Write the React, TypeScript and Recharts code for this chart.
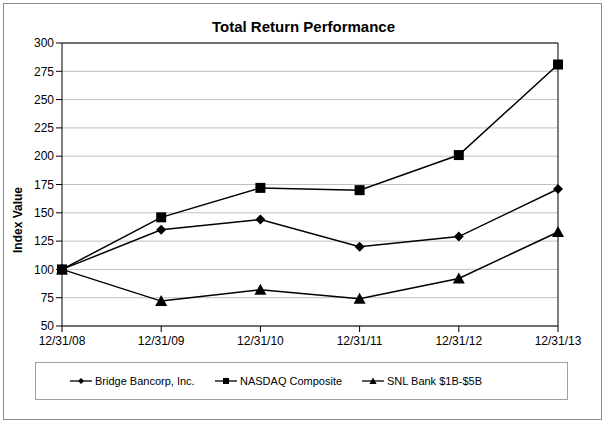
import React from "react"
import { CartesianGrid, Line, LineChart, ReferenceLine, XAxis, YAxis } from "recharts"

const dates = ["12/31/08", "12/31/09", "12/31/10", "12/31/11", "12/31/12", "12/31/13"]
const bridge = [100, 135, 144, 120, 129, 171]
const nasdaq = [100, 146, 172, 170, 201, 281]
const snl = [100, 72, 82, 74, 92, 133]
const yTicks = [50, 75, 100, 125, 150, 175, 200, 225, 250, 275, 300]

const rows = dates.map((d, i) => ({ date: d, bridge: bridge[i], nasdaq: nasdaq[i], snl: snl[i] }))

const font = "'Liberation Sans', Arial, sans-serif"

function Diamond({ cx, cy }: any) {
  const r = 5
  return <path d={`M${cx},${cy - r}L${cx + r},${cy}L${cx},${cy + r}L${cx - r},${cy}Z`} fill="#000" />
}
function Square({ cx, cy }: any) {
  const r = 5
  return <rect x={cx - r} y={cy - r} width={r * 2} height={r * 2} fill="#000" />
}
function Triangle({ cx, cy }: any) {
  const r = 6
  return <path d={`M${cx},${cy - r}L${cx + r},${cy + r - 1}L${cx - r},${cy + r - 1}Z`} fill="#000" />
}

const legendItems = [
  { name: "Bridge Bancorp, Inc.", Icon: Diamond, x: 70 },
  { name: "NASDAQ Composite", Icon: Square, x: 215 },
  { name: "SNL Bank $1B-$5B", Icon: Triangle, x: 362 },
]

function LegendBox() {
  return (
    <svg width={531} height={36} style={{ display: "block" }}>
      {legendItems.map(({ name, Icon, x }) => {
        const lx = x - 36
        return (
          <g key={name}>
            <line x1={lx} x2={lx + 22} y1={18} y2={18} stroke="#000" strokeWidth={1.3} />
            <g transform={`translate(${lx + 11},18) scale(0.6)`}>
              <Icon cx={0} cy={0} />
            </g>
            <text x={lx + 25} y={22} fontSize={11} fontFamily={font} fill="#000">
              {name}
            </text>
          </g>
        )
      })}
    </svg>
  )
}

export default function App() {
  return (
    <div style={{ position: "absolute", left: 0, top: 0, width: 607, height: 425, background: "#fff" }}>
      <div
        style={{
          position: "absolute",
          left: 3,
          top: 3,
          width: 597,
          height: 415,
          border: "1px solid #8c8c8c",
        }}
      />
      <div
        style={{
          position: "absolute",
          left: 0,
          top: 18,
          width: 607,
          textAlign: "center",
          fontFamily: font,
          fontWeight: "bold",
          fontSize: 15,
          color: "#000",
        }}
      >
        Total Return Performance
      </div>
      <LineChart
        width={607}
        height={425}
        data={rows}
        margin={{ top: 43, right: 49, left: 0, bottom: 79 }}
        style={{ position: "absolute", left: 0, top: 0 }}
      >
        <CartesianGrid horizontal vertical={false} stroke="#c0c0c0" strokeWidth={1} />
        <XAxis
          dataKey="date"
          height={20}
          tickSize={6}
          tickMargin={4}
          stroke="#000"
          interval={0}
          tick={{ fill: "#000", fontSize: 12, fontFamily: font }}
        />
        <YAxis
          width={62}
          domain={[50, 300]}
          ticks={yTicks}
          interval={0}
          tickSize={6}
          tickMargin={2}
          stroke="#000"
          tick={{ fill: "#000", fontSize: 12, fontFamily: font }}
          label={{
            content: () => (
              <text
                transform="translate(22,220) rotate(-90)"
                textAnchor="middle"
                fontSize={12}
                fontWeight="bold"
                fontFamily={font}
                fill="#000"
              >
                Index Value
              </text>
            ),
          }}
        />
        <ReferenceLine y={300} stroke="#000" strokeWidth={1} />
        <ReferenceLine x="12/31/13" stroke="#000" strokeWidth={1} />
        <Line dataKey="bridge" stroke="#000" strokeWidth={1.5} dot={<Diamond />} isAnimationActive={false} />
        <Line dataKey="nasdaq" stroke="#000" strokeWidth={1.5} dot={<Square />} isAnimationActive={false} />
        <Line dataKey="snl" stroke="#000" strokeWidth={1.5} dot={<Triangle />} isAnimationActive={false} />
      </LineChart>
      <div
        style={{
          position: "absolute",
          left: 35,
          top: 362,
          width: 531,
          height: 36,
          border: "1px solid #a0a0a0",
        }}
      >
        <LegendBox />
      </div>
    </div>
  )
}
